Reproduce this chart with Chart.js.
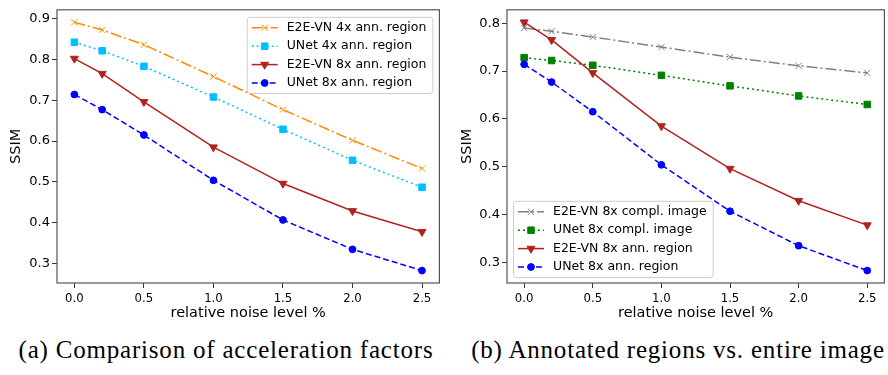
<!DOCTYPE html>
<html><head><meta charset="utf-8">
<script src="https://cdn.jsdelivr.net/npm/chart.js@4.4.1/dist/chart.umd.min.js"></script>
<style>
html,body{margin:0;padding:0;background:#fff;}
#wrap{position:relative;width:888px;height:375px;overflow:hidden;background:#fff;}
.cv{position:absolute;top:0;width:445px;height:330px;}
.cap{position:absolute;top:336px;font-family:"Liberation Serif","DejaVu Serif",serif;font-size:25px;letter-spacing:0.8px;color:#000;white-space:nowrap;transform:translateX(-50%);}
</style></head><body>
<div id="wrap">
<div class="cv" style="left:0;"><canvas id="c1" width="445" height="330"></canvas></div>
<div class="cv" style="left:445px;"><canvas id="c2" width="445" height="330"></canvas></div>
<div class="cap" style="left:226px">(a) Comparison of acceleration factors</div>
<div class="cap" style="left:678px">(b) Annotated regions vs. entire image</div>
</div>
<script>
// ---- data ----
const noiseLevels = [0, 0.2, 0.5, 1.0, 1.5, 2.0, 2.5];
const e2evn4xRegion = [0.891, 0.872, 0.836, 0.758, 0.677, 0.602, 0.533];
const unet4xRegion  = [0.842, 0.821, 0.783, 0.708, 0.629, 0.553, 0.487];
const e2evn8xRegion = [0.802, 0.765, 0.696, 0.585, 0.496, 0.429, 0.378];
const unet8xRegion  = [0.714, 0.677, 0.615, 0.504, 0.407, 0.335, 0.283];
const e2evn8xImage  = [0.790, 0.783, 0.771, 0.750, 0.729, 0.711, 0.696];
const unet8xImage   = [0.728, 0.722, 0.712, 0.691, 0.669, 0.648, 0.630];
const xTickValues = [0, 0.5, 1.0, 1.5, 2.0, 2.5];
const yTicksA = [0.3, 0.4, 0.5, 0.6, 0.7, 0.8, 0.9];
const yTicksB = [0.3, 0.4, 0.5, 0.6, 0.7, 0.8];
const xLabel = 'relative noise level %';
const yLabel = 'SSIM';

const FONT = '"DejaVu Sans", Verdana, sans-serif';
const FONT_COND = '"DejaVu Sans Condensed", "DejaVu Sans", sans-serif';

const styles = {
  e2e4: {color:'#ff8c00', dash:[11,3,2,3], pointStyle:'crossRot', radius:4.4, rot:0},
  un4:  {color:'#00bfff', dash:[2,3], pointStyle:'rect', radius:4.6, rot:0},
  e2e8: {color:'#b22222', dash:[], pointStyle:'triangle', radius:4.6, rot:180},
  un8:  {color:'#0000ff', dash:[6,3], pointStyle:'circle', radius:3.4, rot:0},
  e2eI: {color:'#808080', dash:[11,3,2,3], pointStyle:'crossRot', radius:4.4, rot:0},
  unI:  {color:'#008000', dash:[2,3], pointStyle:'rect', radius:4.6, rot:0}
};

function ds(label, vals, st, idx, n){
  return {
    label: label,
    data: noiseLevels.map((x,i)=>({x:x, y:vals[i]})),
    borderColor: st.color, backgroundColor: st.color,
    borderWidth: 1.5, borderDash: st.dash,
    pointStyle: st.pointStyle, pointRadius: st.radius, pointRotation: st.rot,
    pointBackgroundColor: st.color, pointBorderColor: st.color, pointBorderWidth: 1,
    pointHoverRadius: st.radius,
    tension: 0, fill: false, order: n - idx,
    _st: st
  };
}

function drawMarker(ctx, st, x, y){
  const r = st.radius;
  ctx.save(); ctx.translate(x,y); ctx.rotate(st.rot*Math.PI/180); ctx.beginPath();
  if(st.pointStyle==='circle'){ ctx.arc(0,0,r,0,2*Math.PI); }
  else if(st.pointStyle==='rect'){ const s=r*Math.SQRT1_2; ctx.rect(-s,-s,2*s,2*s); }
  else if(st.pointStyle==='triangle'){ ctx.moveTo(0,-r); ctx.lineTo(r*0.866,r*0.5); ctx.lineTo(-r*0.866,r*0.5); ctx.closePath(); }
  else if(st.pointStyle==='crossRot'){ const s=r*Math.SQRT1_2; ctx.moveTo(-s,-s); ctx.lineTo(s,s); ctx.moveTo(-s,s); ctx.lineTo(s,-s); }
  ctx.fillStyle=st.color; ctx.strokeStyle=st.color; ctx.lineWidth=1;
  if(st.pointStyle!=='crossRot') ctx.fill();
  ctx.stroke(); ctx.restore();
}

const framePlugin = {
  id:'frame',
  afterDatasetsDraw(chart){
    const {ctx, chartArea:a} = chart;
    ctx.save(); ctx.strokeStyle='#555'; ctx.lineWidth=1.2; ctx.setLineDash([]);
    ctx.strokeRect(a.left, a.top, a.right-a.left, a.bottom-a.top);
    ctx.restore();
  }
};

const boxLegendPlugin = {
  id:'boxLegend',
  afterDraw(chart, args, opts){
    const {ctx, chartArea:a} = chart;
    const items = chart.data.datasets.map(d=>({label:d.label, st:d._st}));
    ctx.save();
    ctx.font = '12.5px ' + FONT;
    let maxW = 0; items.forEach(it=>{ maxW = Math.max(maxW, ctx.measureText(it.label).width); });
    const textOff = 40, gap = 18.4, firstRow = 11;
    const w = textOff + maxW + 6, h = firstRow*2 + gap*(items.length-1) - 1;
    let bx, by;
    if(opts.corner==='upper right'){ bx = a.right - 7 - w; by = a.top + 7; }
    else { bx = a.left + 6; by = a.bottom - 6 - h; }
    ctx.beginPath();
    if(ctx.roundRect) ctx.roundRect(bx+0.5, by+0.5, w, h, 3); else ctx.rect(bx+0.5, by+0.5, w, h);
    ctx.fillStyle='rgba(255,255,255,0.8)'; ctx.fill();
    ctx.strokeStyle='#cccccc'; ctx.lineWidth=1; ctx.stroke();
    items.forEach((it,i)=>{
      const y = by + firstRow + gap*i;
      const x0 = bx + 5, x1 = bx + 31;
      ctx.save();
      ctx.strokeStyle = it.st.color; ctx.lineWidth = 1.5; ctx.setLineDash(it.st.dash);
      ctx.beginPath(); ctx.moveTo(x0,y); ctx.lineTo(x1,y); ctx.stroke();
      ctx.restore();
      drawMarker(ctx, it.st, (x0+x1)/2, y);
      ctx.fillStyle='#000'; ctx.textBaseline='middle'; ctx.textAlign='left';
      ctx.fillText(it.label, bx + textOff, y);
    });
    ctx.restore();
  }
};

function range(arrs){
  let lo=Infinity, hi=-Infinity;
  arrs.forEach(a=>a.forEach(v=>{lo=Math.min(lo,v);hi=Math.max(hi,v);}));
  const m=(hi-lo)*0.05; return [lo-m, hi+m];
}

function makeChart(id, datasets, yTicks, yAxisWidth, yTitlePad, corner){
  const [ylo, yhi] = range(datasets.map(d=>d.data.map(p=>p.y)));
  const xm = (noiseLevels[noiseLevels.length-1]-noiseLevels[0])*0.05;
  const yTickFont = {family:FONT, size:13};
  const xTickFont = {family:FONT_COND, size:13};
  const titleFont = {family:FONT, size:14.5};
  return new Chart(document.getElementById(id), {
    type:'line',
    data:{datasets:datasets},
    options:{
      responsive:false, animation:false, devicePixelRatio:1,
      layout:{padding:{top:5, right:5, bottom:0, left:0}},
      plugins:{legend:{display:false}, tooltip:{enabled:false}, boxLegend:{corner:corner}},
      events:[],
      scales:{
        x:{type:'linear', min:noiseLevels[0]-xm, max:noiseLevels[noiseLevels.length-1]+xm,
          afterBuildTicks:s=>{ s.ticks = xTickValues.map(v=>({value:v})); },
          afterFit:s=>{ s.height = 47; },
          ticks:{callback:v=>Number(v).toFixed(1), font:xTickFont, color:'#000', padding:3, maxRotation:0, autoSkip:false},
          grid:{display:true, drawOnChartArea:false, drawTicks:true, tickLength:5, tickColor:'#333', tickWidth:1},
          border:{display:false},
          title:{display:true, text:xLabel, font:titleFont, color:'#000', padding:{top:0, bottom:8}}
        },
        y:{type:'linear', min:ylo, max:yhi,
          afterBuildTicks:s=>{ s.ticks = yTicks.map(v=>({value:v})); },
          afterFit:s=>{ s.width = yAxisWidth; },
          ticks:{callback:v=>Number(v).toFixed(1), font:yTickFont, color:'#000', padding:2, autoSkip:false},
          grid:{display:true, drawOnChartArea:false, drawTicks:true, tickLength:5, tickColor:'#333', tickWidth:1},
          border:{display:false},
          title:{display:true, text:yLabel, font:titleFont, color:'#000', padding:{top:yTitlePad, bottom:0}}
        }
      }
    },
    plugins:[framePlugin, boxLegendPlugin]
  });
}

const dsA = [
  ds('E2E-VN 4x ann. region', e2evn4xRegion, styles.e2e4, 0, 4),
  ds('UNet 4x ann. region', unet4xRegion, styles.un4, 1, 4),
  ds('E2E-VN 8x ann. region', e2evn8xRegion, styles.e2e8, 2, 4),
  ds('UNet 8x ann. region', unet8xRegion, styles.un8, 3, 4)
];
const dsB = [
  ds('E2E-VN 8x compl. image', e2evn8xImage, styles.e2eI, 0, 4),
  ds('UNet 8x compl. image', unet8xImage, styles.unI, 1, 4),
  ds('E2E-VN 8x ann. region', e2evn8xRegion, styles.e2e8, 2, 4),
  ds('UNet 8x ann. region', unet8xRegion, styles.un8, 3, 4)
];
makeChart('c1', dsA, yTicksA, 57, 8, 'upper right');
makeChart('c2', dsB, yTicksB, 62, 14, 'lower left');
</script>
</body></html>
